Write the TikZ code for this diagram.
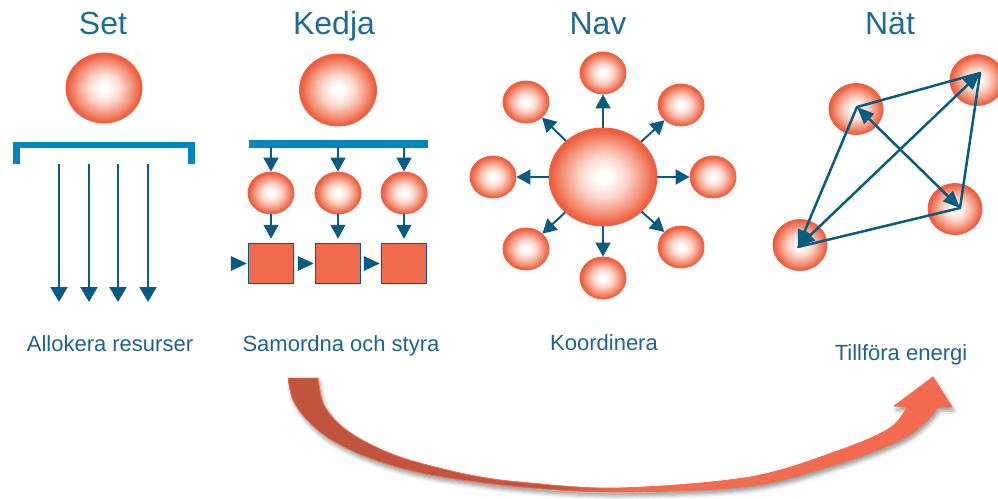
\documentclass[tikz,border=0pt]{standalone}
\usepackage{fontspec}
\setmainfont{Liberation Sans}
\usetikzlibrary{shapes.geometric,arrows.meta,calc,shadows.blur}
\definecolor{titlecol}{RGB}{27,109,150}
\definecolor{labcol}{RGB}{30,98,142}
\definecolor{arrcol}{RGB}{8,92,128}
\definecolor{barcol}{RGB}{0,134,186}
\definecolor{sqfill}{RGB}{242,106,78}
\definecolor{ballA}{RGB}{251,212,200}
\definecolor{ballB}{RGB}{244,142,116}
\definecolor{ballC}{RGB}{237,94,64}
\definecolor{ballEdge}{RGB}{240,98,66}
\definecolor{ribdk}{RGB}{192,84,60}
\definecolor{ribor}{RGB}{242,107,78}
\pgfdeclareradialshading{ball}{\pgfpoint{0bp}{0bp}}{color(0bp)=(white); color(3bp)=(white); color(11bp)=(ballA); color(19bp)=(ballB); color(24bp)=(ballC); color(50bp)=(ballC)}
\pgfdeclarehorizontalshading{ribbon}{100bp}{color(0bp)=(ribdk); color(45bp)=(ribdk); color(51bp)=(ribor); color(100bp)=(ribor)}
\tikzset{
  ball/.style={ellipse, inner sep=0pt, shade, shading=ball, draw=ballEdge, line width=0.9pt},
  arr/.style={draw=arrcol, line width=2pt, -{Triangle[width=15pt,length=14pt]}},
  setarr/.style={draw=arrcol, line width=2.2pt, -{Triangle[width=17pt,length=15pt]}},
  netline/.style={draw=arrcol, line width=2.5pt, line cap=round},
  netarr/.style={netline, -{Triangle[width=14pt,length=17pt]}},
  netboth/.style={netline, {Triangle[width=14pt,length=17pt]}-{Triangle[width=14pt,length=17pt]}},
  sqbox/.style={rectangle, fill=sqfill, draw=arrcol, line width=1.5pt, minimum width=45pt, minimum height=40pt, inner sep=0pt},
  titlefont/.style={text=titlecol, font=\fontsize{32}{36}\selectfont, inner sep=0pt},
  labfont/.style={text=labcol, font=\fontsize{22}{25}\selectfont, inner sep=0pt},
}
\begin{document}
\begin{tikzpicture}[x=1pt,y=-1pt]
\useasboundingbox (0,0) rectangle (998,498);
% titles
\node[titlefont, anchor=base] (tset) at (103,34) {Set};
\node[titlefont, anchor=base] (tked) at (334,34) {Kedja};
\node[titlefont, anchor=base] (tnav) at (598,34) {Nav};
\node[titlefont, anchor=base] (tnat) at (890,34) {Nät};
% labels
\node[labfont, anchor=base] (lset) at (110,351) {Allokera resurser};
\node[labfont, anchor=base] (lked) at (341,351) {Samordna och styra};
\node[labfont, anchor=base] (lnav) at (604,350) {Koordinera};
\node[labfont, anchor=base] (lnat) at (901,360) {Tillföra energi};

% ---- Set
\node[ball, minimum width=76pt, minimum height=70pt] (setball) at (104,88) {};
\draw[draw=barcol, line width=6.5pt, line join=miter] (16.5,164) -- (16.5,145) -- (191.5,145) -- (191.5,164);
\foreach \i/\x in {1/59,2/89,3/118,4/148}{
  \coordinate (ss\i) at (\x,164);
  \coordinate (se\i) at (\x,302);
  \draw[setarr] (ss\i) -- (se\i);
}

% ---- Kedja
\node[ball, minimum width=77pt, minimum height=72pt] (kball) at (338,90) {};
\draw[draw=barcol, line width=8pt] (249,144) -- (428,144);
\foreach \i/\x in {1/271,2/338,3/404}{
  \coordinate (kb\i) at (\x,147);
  \node[ball, minimum width=46pt, minimum height=42pt] (k\i) at (\x,193) {};
  \node[sqbox] (q\i) at (\x,263.5) {};
  \draw[arr, shorten >=0pt] (kb\i) -- (k\i.north);
  \draw[arr, shorten >=4pt] (k\i.south) -- (q\i.north);
  \fill[arrcol] ($(q\i.west)+(-17,-7.5)$) -- ($(q\i.west)+(-1,0)$) -- ($(q\i.west)+(-17,7.5)$) -- cycle;
}

% ---- Nav
\node[ball, minimum width=108pt, minimum height=98pt] (nc) at (603,177) {};
\foreach \n/\x/\y in {n1/603/73, n2/681/105, n3/713/177, n4/681/247, n5/603/278, n6/526/249, n7/493/177, n8/526/102}{
  \node[ball, minimum width=46pt, minimum height=42pt] (\n) at (\x,\y) {};
  \draw[arr] (nc) -- (\n);
}

% ---- Nät
\node[ball, minimum width=54pt, minimum height=51pt] (wtl) at (856,109) {};
\node[ball, minimum width=54pt, minimum height=51pt] (wtr) at (977,80) {};
\node[ball, minimum width=54pt, minimum height=51pt] (wbr) at (955,209) {};
\node[ball, minimum width=54pt, minimum height=51pt] (wbl) at (800,245) {};
\coordinate (ptl) at (857,107);
\coordinate (ptr) at (980,73);
\coordinate (pbr) at (960,208);
\coordinate (pbl) at (798,247);
\draw[netline] (ptr) -- (ptl);
\draw[netline] (ptr) -- (pbr);
\draw[netline] (pbr) -- (pbl);
\draw[netarr] (ptl) -- (pbl);
\draw[netboth] (pbl) -- (ptr);
\draw[netboth] (ptl) -- (pbr);

% ---- big curved arrow
\path[shade, shading=ribbon, draw=ribor, line width=0.8pt,
      blur shadow={shadow xshift=2pt, shadow yshift=-4pt, shadow blur radius=4pt, shadow opacity=40}]
  (288,378) -- (318,378)
  -- plot[smooth, tension=0.55] coordinates {(318,378) (323,403) (337,422) (357,437) (387,452) (420,463) (470,475) (520,482) (617,488) (750,477) (840,450) (890,428) (907,407)}
  -- (894,406) -- (933,377) -- (952,407) -- (938,407)
  -- plot[smooth, tension=0.55] coordinates {(938,407) (925,422) (900,440) (840,463) (750,486) (617,492) (520,487) (443,477) (397,467) (357,453) (327,437) (307,420) (293,400) (288,378)}
  -- cycle;
\end{tikzpicture}
\end{document}
